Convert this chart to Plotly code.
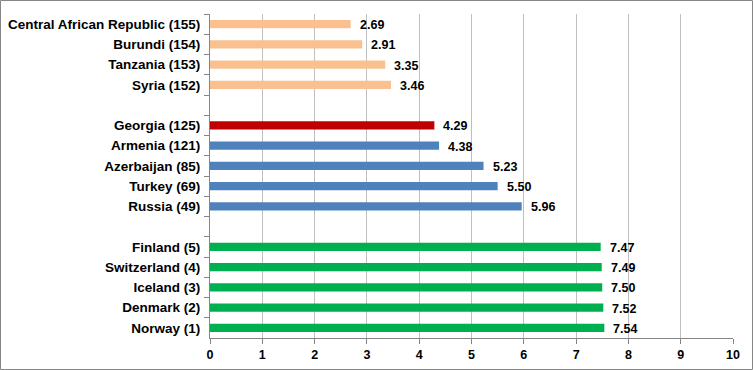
import plotly.graph_objects as go

countries = ["Central African Republic (155)", "Burundi (154)", "Tanzania (153)", "Syria (152)", " ",
             "Georgia (125)", "Armenia (121)", "Azerbaijan (85)", "Turkey (69)", "Russia (49)", "  ",
             "Finland (5)", "Switzerland (4)", "Iceland (3)", "Denmark (2)", "Norway (1)"]
values = [2.69, 2.91, 3.35, 3.46, None,
          4.29, 4.38, 5.23, 5.50, 5.96, None,
          7.47, 7.49, 7.50, 7.52, 7.54]
groups = ["low"] * 4 + [None] + ["georgia"] + ["region"] * 4 + [None] + ["top"] * 5
palette = {"low": "#FAC090", "georgia": "#C00000", "region": "#4F81BD", "top": "#00B050", None: "#FFFFFF"}
colors = [palette[g] for g in groups]

NUMFONT = "Liberation Sans Narrow, Liberation Sans"

fig = go.Figure()
fig.add_trace(go.Bar(
    x=[v if v is not None else 0 for v in values], y=countries, orientation="h",
    marker=dict(color=colors, line=dict(width=0)), hoverinfo="skip",
))

for c, v in zip(countries, values):
    if v is None:
        continue
    fig.add_annotation(x=v, y=c, text=f"{v:.2f}", showarrow=False, xanchor="left",
                       xshift=7, yshift=-1,
                       font=dict(family=NUMFONT, size=12.5, color="#000000", weight="bold"))

W, H = 753, 370
L, R, T, B = 210, 20, 14, 32
pw, ph = W - L - R, H - T - B
fig.add_shape(type="rect", xref="paper", yref="paper",
              x0=(0.5 - L) / pw, x1=(W - 0.5 - L) / pw,
              y0=-(H - 0.5 - (T + ph)) / ph, y1=(T + ph - 0.5) / ph,
              line=dict(color="#868686", width=1), layer="below")

fig.update_layout(
    width=W, height=H, margin=dict(l=L, r=R, t=T, b=B, autoexpand=False),
    autosize=False,
    paper_bgcolor="white", plot_bgcolor="white", showlegend=False, bargap=0.59,
    font=dict(family="Liberation Sans", size=13, color="#000000"),
    xaxis=dict(range=[0, 10], dtick=1, tick0=0, showgrid=True, gridcolor="#BFBFBF", gridwidth=1,
               showline=True, linecolor="#868686", ticks="outside", ticklen=5, tickcolor="#868686",
               zeroline=False, tickfont=dict(family=NUMFONT, size=12.5, color="#000000", weight="bold"),
               fixedrange=True, automargin=False),
    yaxis=dict(autorange="reversed", type="category", showgrid=False, showline=True,
               linecolor="#868686", ticks="outside", ticklen=5, tickcolor="#868686",
               tickson="boundaries",
               tickfont=dict(family="Liberation Sans", size=13.5, color="#000000", weight="bold"),
               ticklabelstandoff=6, fixedrange=True, automargin=False),
)

fig.write_html(
    "out.html",
    config={"displayModeBar": False, "responsive": False},
    post_script=(
        "document.documentElement.style.margin='0';"
        "document.documentElement.style.overflow='hidden';"
        "document.body.style.margin='0';"
        "document.body.style.overflow='hidden';"
    ),
)
